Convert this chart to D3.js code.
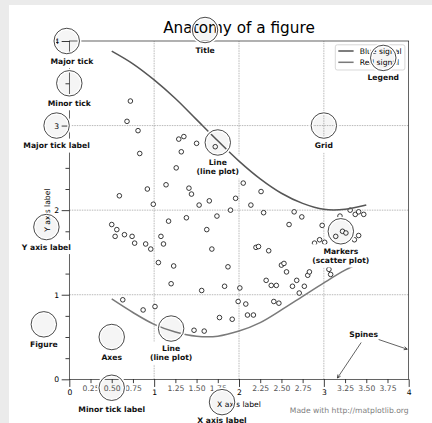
<!DOCTYPE html>
<html>
<head>
<meta charset="utf-8">
<script src="https://cdn.jsdelivr.net/npm/d3@7"></script>
<style>
  body { margin: 0; background: #ebebeb; }
  svg { display: block; font-family: "DejaVu Sans", sans-serif; }
</style>
</head>
<body>
<svg id="chart" width="432" height="423"></svg>
<script>

// line samples
var lineX = [0.5, 0.75, 1.0, 1.25, 1.5, 1.75, 2.0, 2.25, 2.5, 2.75, 3.0, 3.25, 3.5];
var blueY = [3.88, 3.73, 3.54, 3.32, 3.07, 2.82, 2.58, 2.37, 2.20, 2.08, 2.01, 2.01, 2.06];
var redY  = [0.95, 0.79, 0.65, 0.56, 0.51, 0.51, 0.57, 0.67, 0.82, 0.98, 1.14, 1.29, 1.41];

// scatter markers
var markerX = [0.50,0.54,0.56,0.59,0.63,0.65,0.68,0.72,0.74,0.77, 0.81,0.83,0.87,0.90,0.92,0.96,0.99,1.01,1.05,1.08,
  1.11,1.14,1.17,1.20,1.23,1.26,1.29,1.32,1.35,1.38, 1.41,1.44,1.47,1.50,1.53,1.56,1.59,1.62,1.65,1.68,
  1.72,1.74,1.77,1.83,1.87,1.90,1.92,1.96,1.99,2.01, 2.05,2.08,2.10,2.14,2.17,2.20,2.23,2.26,2.29,2.32,
  2.35,2.38,2.41,2.44,2.47,2.50,2.53,2.56,2.59,2.63, 2.65,2.68,2.71,2.74,2.77,2.81,2.83,2.89,2.95,2.98,
  3.01,3.06,3.08,3.14,3.19,3.22,3.26,3.31,3.36,3.37, 3.41,3.41,3.47];
var markerY = [1.83,1.69,1.77,2.17,0.94,1.71,3.05,3.29,1.69,1.61, 2.94,2.67,0.82,1.60,2.25,1.54,2.07,0.86,1.38,1.69,
  1.60,2.30,1.87,1.13,1.34,2.50,2.84,2.69,2.87,1.91, 2.26,2.19,0.58,2.79,2.06,1.05,0.57,1.77,2.11,1.54,
  2.75,1.93,0.73,1.10,1.33,2.00,0.71,2.14,0.92,1.08, 2.32,0.89,0.76,2.06,0.76,1.56,1.57,2.22,1.97,1.17,
  1.52,1.11,0.92,1.11,0.90,1.35,1.37,1.27,1.83,1.10, 1.98,1.17,1.02,1.92,1.10,1.23,1.27,1.61,1.65,1.82,
  1.62,1.30,1.24,1.69,1.93,1.75,1.73,2.00,1.65,1.95, 1.98,1.70,1.95];

var majorTicks = [0, 1, 2, 3, 4];
var minorTicks = [0.25, 0.5, 0.75, 1.25, 1.5, 1.75, 2.25, 2.5, 2.75, 3.25, 3.5, 3.75];
var gridTicks = [1, 2, 3];
var legendLabels = ["Blue signal", "Red signal"];

// annotation circles and their labels
var noteX  = [0.50, -0.03, 0.00, -0.15, 1.80, -0.27, 1.60, 1.75, 1.20, 3.20, 3.00, 3.70, 0.5, -0.3];
var noteY  = [-0.10, 4.00, 3.50, 3.00, -0.27, 1.80, 4.13, 2.80, 0.60, 1.75, 3.00, 3.80, 0.5, 0.65];
var labelX = [0.50, 0.03, 0.00, -0.15, 1.80, -0.27, 1.60, 1.75, 1.20, 3.20, 3.00, 3.70, 0.5, -0.3];
var labelY = [-0.32, 3.80, 3.30, 2.80, -0.45, 1.60, 3.93, 2.60, 0.40, 1.55, 2.80, 3.60, 0.3, 0.45];
var labelText = ["Minor tick label", "Major tick", "Minor tick", "Major tick label", "X axis label",
  "Y axis label", "Title", "Line\n(line plot)", "Line\n(line plot)", "Markers\n(scatter plot)",
  "Grid", "Legend", "Axes", "Figure"];

var pt = 0.764;           // one matplotlib point in pixels here
var fs = 10 * pt;

var svg = d3.select("#chart");

svg.append("rect")
  .attr("x", 9).attr("y", 5)
  .attr("width", 423).attr("height", 418)
  .attr("fill", "#fff");

var x = d3.scaleLinear().domain([0, 4]).range([69.3, 408.7]);
var y = d3.scaleLinear().domain([0, 4]).range([379.3, 41]);

// grid
var grid = svg.append("g")
  .attr("stroke", "#8a8a8a")
  .attr("stroke-width", 0.6)
  .attr("stroke-dasharray", "1.5,1");
grid.selectAll(".gx").data(gridTicks).enter().append("line")
  .attr("x1", function(d) { return x(d); }).attr("x2", function(d) { return x(d); })
  .attr("y1", y(0)).attr("y2", y(4));
grid.selectAll(".gy").data(gridTicks).enter().append("line")
  .attr("y1", function(d) { return y(d); }).attr("y2", function(d) { return y(d); })
  .attr("x1", x(0)).attr("x2", x(4));

var line = d3.line()
  .x(function(d) { return x(d[0]); })
  .y(function(d) { return y(d[1]); })
  .curve(d3.curveCatmullRom);

var bluePts = lineX.map(function(v, i) { return [v, blueY[i]]; });
var redPts = lineX.map(function(v, i) { return [v, redY[i]]; });

svg.append("path")
  .attr("d", line(redPts))
  .attr("fill", "none")
  .attr("stroke", "#7a7a7a")
  .attr("stroke-width", 2 * pt);

// markers
svg.append("g").selectAll("circle")
  .data(markerX.map(function(v, i) { return [v, markerY[i]]; }))
  .enter().append("circle")
  .attr("cx", function(d) { return x(d[0]); })
  .attr("cy", function(d) { return y(d[1]); })
  .attr("r", 2.3)
  .attr("fill", "#fff")
  .attr("stroke", "#000")
  .attr("stroke-width", pt);

// axes
function styleAxis(g, color) {
  g.attr("font-size", fs).attr("font-family", "DejaVu Sans");
  g.select(".domain").remove();
  g.selectAll(".tick line").attr("stroke", "#000").attr("stroke-width", pt);
  g.selectAll(".tick text").attr("fill", color);
}

svg.append("g")
  .attr("transform", "translate(0," + y(0) + ")")
  .call(d3.axisBottom(x).tickValues(minorTicks).tickSize(5 * pt).tickPadding(3.5 * pt)
    .tickFormat(d3.format(".2f")))
  .call(styleAxis, "#555");

svg.append("g")
  .attr("transform", "translate(0," + y(0) + ")")
  .call(d3.axisBottom(x).tickValues(majorTicks).tickSize(10 * pt).tickPadding(3.5 * pt)
    .tickFormat(d3.format("d")))
  .call(styleAxis, "#000");

svg.append("g")
  .attr("transform", "translate(" + x(0) + ",0)")
  .call(d3.axisLeft(y).tickValues(minorTicks).tickSize(5 * pt).tickFormat(""))
  .call(styleAxis, "#000");

svg.append("g")
  .attr("transform", "translate(" + x(0) + ",0)")
  .call(d3.axisLeft(y).tickValues(majorTicks).tickSize(10 * pt).tickPadding(3.5 * pt)
    .tickFormat(d3.format("d")))
  .call(styleAxis, "#000");

// spines
svg.append("rect")
  .attr("x", x(0)).attr("y", y(4))
  .attr("width", x(4) - x(0)).attr("height", y(0) - y(4))
  .attr("fill", "none")
  .attr("stroke", "#000")
  .attr("stroke-width", 0.8 * pt);

// title and axis labels
svg.append("text")
  .attr("x", x(2)).attr("y", 32.8)
  .attr("text-anchor", "middle")
  .attr("font-size", 20 * pt)
  .text("Anatomy of a figure");

svg.append("text")
  .attr("x", x(2)).attr("y", 407)
  .attr("text-anchor", "middle")
  .attr("font-size", fs)
  .text("X axis label");

svg.append("text")
  .attr("transform", "translate(50," + y(2) + ") rotate(-90)")
  .attr("text-anchor", "middle")
  .attr("font-size", fs)
  .text("Y axis label");

svg.append("text")
  .attr("x", x(4)).attr("y", y(-0.4))
  .attr("text-anchor", "end")
  .attr("font-size", fs)
  .attr("fill", "#808080")
  .text("Made with http://matplotlib.org");

// bold annotation labels with white backgrounds
var notes = svg.append("g");
labelText.forEach(function(t, i) {
  var g = notes.append("g");
  var txt = g.append("text")
    .attr("text-anchor", "middle")
    .attr("font-size", fs)
    .attr("font-weight", "bold")
    .attr("fill", "#111");
  t.split("\n").forEach(function(s, k) {
    txt.append("tspan")
      .attr("x", x(labelX[i]))
      .attr("y", y(labelY[i]) + 5.6 + k * 1.2 * fs)
      .text(s);
  });
  var b = txt.node().getBBox();
  g.insert("rect", "text")
    .attr("x", b.x - 3).attr("y", b.y - 2.5)
    .attr("width", b.width + 6).attr("height", b.height + 5)
    .attr("fill", "#fff");
});

// spines annotation
svg.append("defs").append("marker")
  .attr("id", "arrow")
  .attr("markerUnits", "userSpaceOnUse")
  .attr("markerWidth", 10).attr("markerHeight", 10)
  .attr("refX", 0).attr("refY", 0)
  .attr("viewBox", "-5 -5 10 10")
  .attr("orient", "auto")
  .append("path")
  .attr("d", "M-3.2,-1.6L0,0L-3.2,1.6")
  .attr("fill", "none")
  .attr("stroke", "#333")
  .attr("stroke-width", pt);

var spinesText = svg.append("text")
  .attr("x", x(3.3)).attr("y", y(0.5))
  .attr("font-size", fs)
  .attr("font-weight", "bold")
  .attr("fill", "#111")
  .text("Spines");

function shrink(p, q, d) {
  var len = Math.hypot(q[0] - p[0], q[1] - p[1]);
  return [p[0] + (q[0] - p[0]) * d / len, p[1] + (q[1] - p[1]) * d / len];
}

var sb = spinesText.node().getBBox();
var c = [sb.x + sb.width / 2, sb.y + sb.height / 2];
var e1 = [x(4.0), y(0.35)];
var tx = (sb.x + sb.width - c[0]) / (e1[0] - c[0]);
var ty = (sb.y + sb.height - c[1]) / (e1[1] - c[1]);
var tt = Math.min(tx, ty);
var s1 = [c[0] + (e1[0] - c[0]) * tt, c[1] + (e1[1] - c[1]) * tt];

var arrows = [[s1, e1], [[x(3.45), y(0.45)], [x(3.15), y(0.0)]]];
svg.append("g").selectAll("line")
  .data(arrows)
  .enter().append("line")
  .each(function(d) {
    var a = shrink(d[0], d[1], 2 * pt);
    var b = shrink(d[1], d[0], 2 * pt);
    d3.select(this)
      .attr("x1", a[0]).attr("y1", a[1])
      .attr("x2", b[0]).attr("y2", b[1]);
  })
  .attr("stroke", "#333")
  .attr("stroke-width", pt)
  .attr("marker-end", "url(#arrow)");

// legend
var legend = svg.append("g");
legend.append("rect")
  .attr("x", 335.3).attr("y", 44.8)
  .attr("width", 69.6).attr("height", 25.2)
  .attr("rx", 2).attr("ry", 2)
  .attr("fill", "#fff").attr("fill-opacity", 0.8)
  .attr("stroke", "#ccc").attr("stroke-width", pt);

var legendColors = ["#565656", "#7a7a7a"];
legendLabels.forEach(function(l, i) {
  var ly = 51 + i * 11.3;
  legend.append("line")
    .attr("x1", 338.3).attr("x2", 353.6)
    .attr("y1", ly).attr("y2", ly)
    .attr("stroke", legendColors[i])
    .attr("stroke-width", 2 * pt);
  legend.append("text")
    .attr("x", 359.7).attr("y", ly + 2.8)
    .attr("font-size", fs)
    .text(l);
});

// blue line sits above the labels
svg.append("path")
  .attr("d", line(bluePts))
  .attr("fill", "none")
  .attr("stroke", "#565656")
  .attr("stroke-width", 2 * pt);

// annotation circles, white halo then black ring
var r = x(0.15) - x(0);
var circles = svg.append("g");
noteX.forEach(function(v, i) {
  circles.append("circle")
    .attr("cx", x(v)).attr("cy", y(noteY[i])).attr("r", r)
    .attr("fill", "rgba(0,0,0,0.04)")
    .attr("stroke", "#fff")
    .attr("stroke-width", 5 * pt);
  circles.append("circle")
    .attr("cx", x(v)).attr("cy", y(noteY[i])).attr("r", r)
    .attr("fill", "none")
    .attr("stroke", "#111")
    .attr("stroke-width", pt);
});

</script>
</body>
</html>
